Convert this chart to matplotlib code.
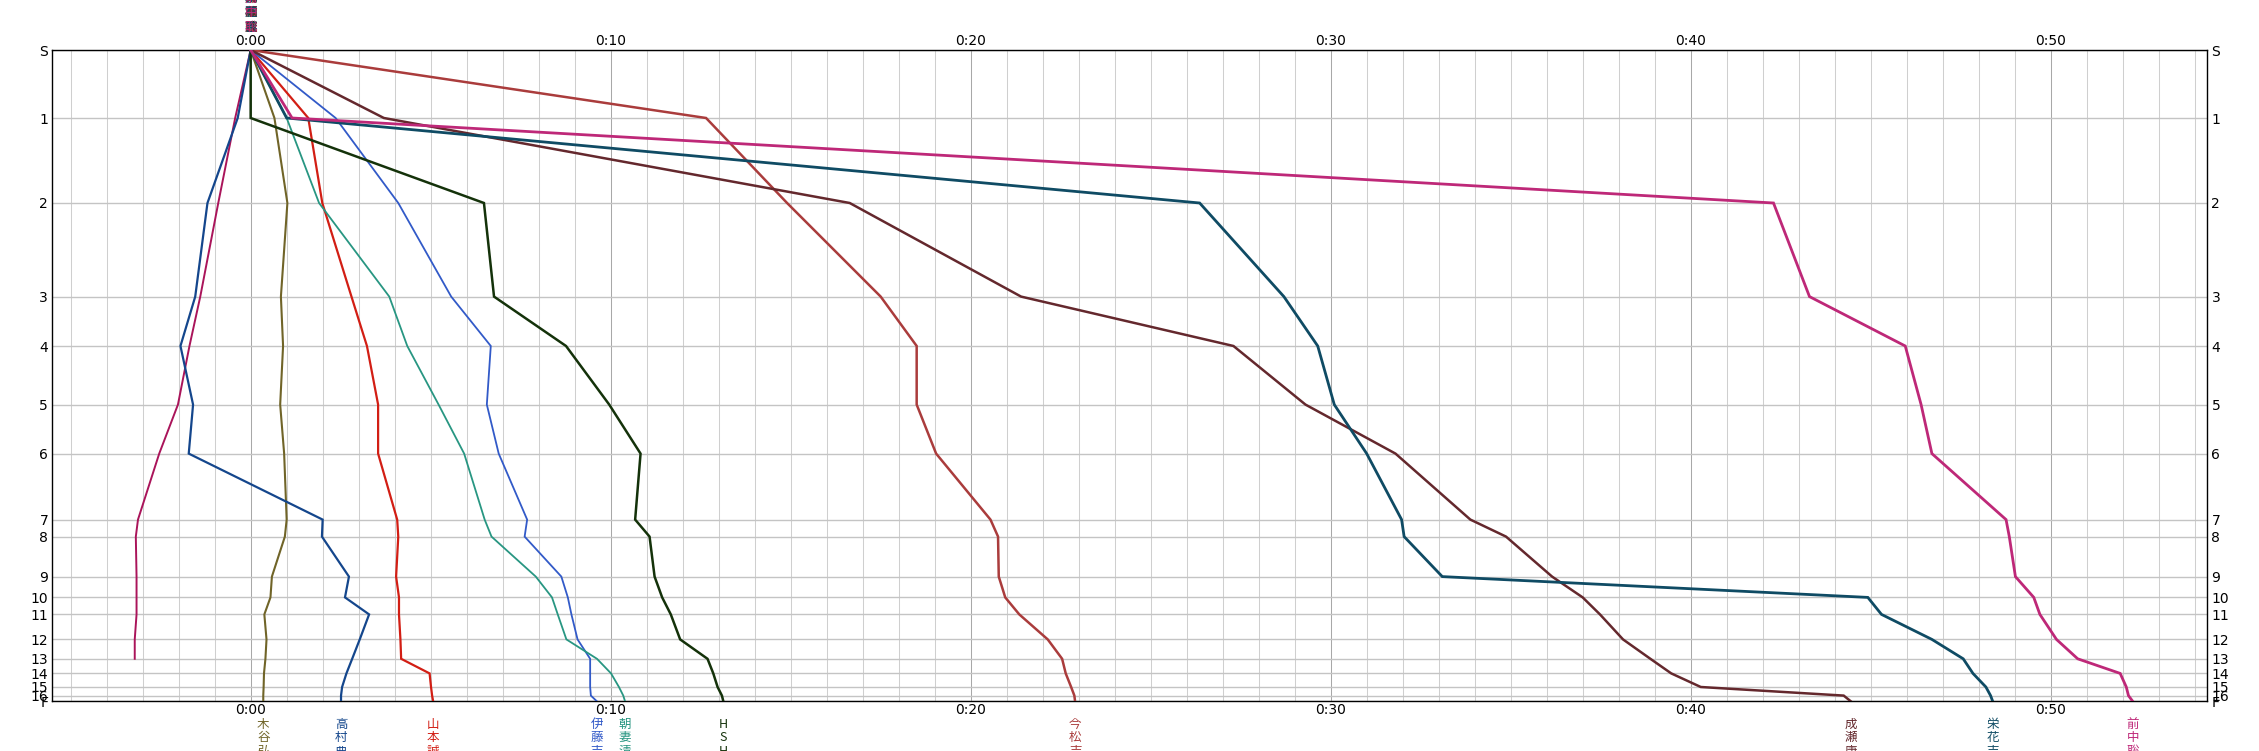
import matplotlib
matplotlib.use("Agg")
import matplotlib.pyplot as plt

plt.rcParams['font.family'] = ['DejaVu Sans', 'Noto Sans CJK JP']

# ---------------- data ----------------
controls = ['S', '1', '2', '3', '4', '5', '6', '7', '8', '9', '10', '11', '12',
            '13', '14', '15', '16', 'F']
# cumulative reference time at each control (seconds)
ref_cum_sec = [0, 340, 765, 1233, 1480, 1773, 2018, 2348, 2433, 2633, 2737,
               2822, 2947, 3044, 3117, 3185, 3228, 3257]

# time behind reference (minutes) at each control
kitani    = [0, 0.66, 1.02, 0.84, 0.90, 0.82, 0.93, 1.00, 0.95, 0.59, 0.55,
             0.38, 0.44, 0.41, 0.37, 0.36, 0.35, 0.35]
takamura  = [0, -0.36, -1.20, -1.54, -1.95, -1.60, -1.72, 2.00, 1.98, 2.73,
             2.62, 3.29, 3.03, 2.82, 2.66, 2.54, 2.51, 2.51]
yamamoto  = [0, 1.60, 1.99, 2.80, 3.23, 3.54, 3.54, 4.07, 4.10, 4.04, 4.12,
             4.12, 4.16, 4.18, 4.97, 5.01, 5.04, 5.07]
ito       = [0, 2.36, 4.10, 5.57, 6.67, 6.56, 6.89, 7.68, 7.61, 8.63, 8.81,
             8.91, 9.08, 9.43, 9.43, 9.43, 9.45, 9.62]
asazuma   = [0, 1.00, 1.90, 3.85, 4.35, 5.22, 5.93, 6.50, 6.69, 7.92, 8.37,
             8.53, 8.77, 9.62, 10.01, 10.23, 10.35, 10.40]
hs        = [0, 0.00, 6.48, 6.76, 8.76, 9.96, 10.83, 10.68, 11.08, 11.22,
             11.43, 11.67, 11.93, 12.69, 12.85, 12.97, 13.09, 13.13]
imamatsu  = [0, 12.65, 14.90, 17.50, 18.50, 18.50, 19.04, 20.55, 20.76, 20.78,
             20.96, 21.35, 22.14, 22.54, 22.64, 22.79, 22.88, 22.90]
narase    = [0, 3.70, 16.64, 21.40, 27.30, 29.30, 31.80, 33.88, 34.87, 36.15,
             37.00, 37.48, 38.12, 38.88, 39.46, 40.28, 44.25, 44.45]
eika      = [0, 1.00, 26.36, 28.70, 29.64, 30.10, 31.00, 31.97, 32.04, 33.10,
             44.92, 45.30, 46.70, 47.57, 47.84, 48.20, 48.33, 48.39]
maenaka   = [0, 1.15, 42.30, 43.30, 45.96, 46.40, 46.70, 48.76, 48.85, 49.02,
             49.53, 49.70, 50.16, 50.75, 51.93, 52.10, 52.16, 52.28]
unfinished = [0, -0.43, -0.90, -1.40, -1.70, -2.02, -2.54, -3.13, -3.19,
              -3.17, -3.17, -3.17, -3.22, -3.22]

runner_names = ['木谷弘', '高村典', '山本誠', '伊藤吉', '朝妻清', 'HSH',
                '今松吉', '成瀬康', '栄花吉', '前中聡']
runner_series = [kitani, takamura, yamamoto, ito, asazuma, hs,
                 imamatsu, narase, eika, maenaka]
runner_colors = ['#706428', '#14468c', '#d21e14', '#325ac8', '#289682',
                 '#14320a', '#aa3c3c', '#64282d', '#0f4b64', '#be2878']
runner_widths = [1.5, 1.6, 1.6, 1.3, 1.3, 1.8, 1.8, 1.8, 2.0, 2.0]
unfinished_color = '#aa145a'

x_ticks = [0, 10, 20, 30, 40, 50]
x_tick_labels = ['0:00', '0:10', '0:20', '0:30', '0:40', '0:50']

# ---------------- figure ----------------
W, H = 2259, 751
fig = plt.figure(figsize=(W / 100, H / 100), dpi=100)
left_px, right_px, top_px, bottom_px = 52.3, 2207.3, 50.0, 701.4
ax = fig.add_axes([left_px / W, 1 - bottom_px / H,
                   (right_px - left_px) / W, (bottom_px - top_px) / H])
ax.set_xlim(-5.51, 54.35)
ax.set_ylim(ref_cum_sec[-1], 0)

# grid
for m in range(-5, 55):
    major = (m % 10 == 0)
    ax.axvline(m, color='#a8a8a8' if major else '#cfcfcf', lw=0.75, zorder=0)
for p in ref_cum_sec:
    ax.axhline(p, color='#c4c4c4', lw=1.0, zorder=0)

# lines
ax.plot(unfinished, ref_cum_sec[:len(unfinished)], color=unfinished_color,
        lw=1.4, zorder=3, solid_joinstyle='miter')
for vals, col, lw in zip(runner_series, runner_colors, runner_widths):
    ax.plot(vals, ref_cum_sec[:len(vals)], color=col, lw=lw, zorder=3,
            solid_joinstyle='miter')

# ticks
ax.set_xticks(x_ticks)
ax.set_xticklabels(x_tick_labels)
ax.tick_params(axis='x', top=True, labeltop=True, bottom=True,
               labelbottom=True, length=0, pad=1.5, labelsize=10)
ax.set_yticks(ref_cum_sec)
ax.set_yticklabels(controls)
ax.tick_params(axis='y', left=True, right=True, labelleft=True,
               labelright=True, length=0, pad=3, labelsize=10)
for s in ax.spines.values():
    s.set_color('black')
    s.set_linewidth(1.0)

# vertical runner names below the chart (at finish position)
cjk = ['Noto Sans CJK JP', 'DejaVu Sans']
for name, vals, col in zip(runner_names, runner_series, runner_colors):
    for i, ch in enumerate(name):
        ax.annotate(ch, xy=(vals[-1], 0), xycoords=('data', 'axes fraction'),
                    xytext=(0, -23 - 13.5 * i), textcoords='offset pixels',
                    ha='center', va='center', color=col, fontsize=9,
                    family=cjk, annotation_clip=False)
    # overlapping names at the start, above the chart
    for i, ch in enumerate(name):
        ax.annotate(ch, xy=(vals[0], 1), xycoords=('data', 'axes fraction'),
                    xytext=(0, 52 - 14.5 * i), textcoords='offset pixels',
                    ha='center', va='center', color=col, fontsize=9,
                    family=cjk, annotation_clip=False)

fig.savefig('out.png', dpi=100)
